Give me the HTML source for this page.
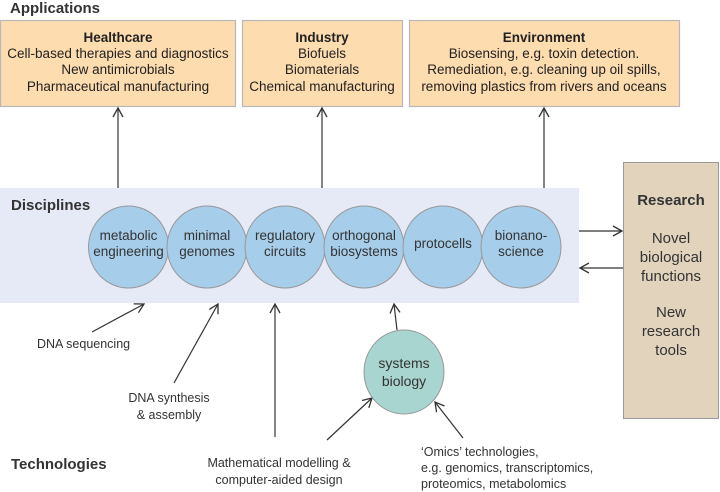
<!DOCTYPE html>
<html><head><meta charset="utf-8"><style>
html,body{margin:0;padding:0;background:#fff;}
svg{display:block;font-family:"Liberation Sans",Arial,sans-serif;}
</style></head><body>
<svg width="720" height="492" viewBox="0 0 720 492" xmlns="http://www.w3.org/2000/svg">
<defs>
<marker id="a" markerWidth="12" markerHeight="12" refX="10" refY="6" orient="auto" markerUnits="userSpaceOnUse">
<path d="M1,1 L10,6 L1,11" fill="none" stroke="#333" stroke-width="1.3"/>
</marker>
</defs>
<text x="10" y="13" font-size="15" font-weight="bold" fill="#333">Applications</text>
<g fill="#fddcb0" stroke="#b8b8b8" stroke-width="1.2">
<rect x="0.5" y="20.5" width="235" height="86"/>
<rect x="242.5" y="20.5" width="160" height="86"/>
<rect x="409.5" y="20.5" width="270" height="86"/>
</g>
<g font-size="13.5" fill="#222" text-anchor="middle">
<text x="118" y="42" font-weight="bold">Healthcare</text>
<text x="118" y="58">Cell-based therapies and diagnostics</text>
<text x="118" y="74">New antimicrobials</text>
<text x="118" y="91">Pharmaceutical manufacturing</text>
<text x="322" y="42" font-weight="bold">Industry</text>
<text x="322" y="58">Biofuels</text>
<text x="322" y="74">Biomaterials</text>
<text x="322" y="91">Chemical manufacturing</text>
<text x="544" y="42" font-weight="bold">Environment</text>
<text x="544" y="58">Biosensing, e.g. toxin detection.</text>
<text x="544" y="74">Remediation, e.g. cleaning up oil spills,</text>
<text x="544" y="91">removing plastics from rivers and oceans</text>
</g>
<rect x="0" y="188" width="579" height="115" fill="#e6e9f6"/>
<g stroke="#333" stroke-width="1.2" fill="none" marker-end="url(#a)">
<line x1="118" y1="188" x2="118" y2="108"/>
<line x1="322" y1="188" x2="322" y2="108"/>
<line x1="544" y1="188" x2="544" y2="108"/>
<line x1="579" y1="231" x2="622" y2="231"/>
<line x1="623" y1="268" x2="580" y2="268"/>
<line x1="92" y1="332" x2="144" y2="304"/>
<line x1="174" y1="383" x2="218" y2="304"/>
<line x1="275" y1="437" x2="275" y2="304"/>
<line x1="397" y1="330" x2="394" y2="304"/>
<line x1="327" y1="440" x2="372" y2="398"/>
<line x1="463" y1="438" x2="435" y2="402"/>
</g>
<text x="11" y="210" font-size="15" font-weight="bold" fill="#333">Disciplines</text>
<g fill="#a6cdea" stroke="#999" stroke-width="1">
<ellipse cx="128.5" cy="247" rx="40" ry="41"/>
<ellipse cx="207" cy="247" rx="40" ry="41"/>
<ellipse cx="285" cy="247" rx="40" ry="41"/>
<ellipse cx="364" cy="247" rx="40" ry="41"/>
<ellipse cx="443" cy="247" rx="40" ry="41"/>
<ellipse cx="521" cy="247" rx="40" ry="41"/>
</g>
<g font-size="13.5" fill="#333" text-anchor="middle">
<text x="128.5" y="240">metabolic</text><text x="128.5" y="256">engineering</text>
<text x="207" y="240">minimal</text><text x="207" y="256">genomes</text>
<text x="285" y="240">regulatory</text><text x="285" y="256">circuits</text>
<text x="364" y="240">orthogonal</text><text x="364" y="256">biosystems</text>
<text x="443" y="248">protocells</text>
<text x="521" y="240">bionano-</text><text x="521" y="256">science</text>
</g>
<rect x="623.5" y="162.5" width="95" height="256" fill="#e2d3bd" stroke="#999" stroke-width="1"/>
<g font-size="15" fill="#333" text-anchor="middle">
<text x="671" y="205" font-weight="bold">Research</text>
<text x="671" y="243">Novel</text>
<text x="671" y="262">biological</text>
<text x="671" y="281">functions</text>
<text x="671" y="317">New</text>
<text x="671" y="336">research</text>
<text x="671" y="355">tools</text>
</g>
<ellipse cx="404" cy="372" rx="40" ry="42" fill="#a8d5cf" stroke="#999" stroke-width="1"/>
<g font-size="14" fill="#333" text-anchor="middle">
<text x="404" y="368">systems</text>
<text x="404" y="386">biology</text>
</g>
<g font-size="12.5" fill="#333">
<text x="37" y="348">DNA sequencing</text>
<text x="169" y="402" text-anchor="middle">DNA synthesis</text>
<text x="169" y="419" text-anchor="middle">&amp; assembly</text>
<text x="279" y="467" text-anchor="middle">Mathematical modelling &amp;</text>
<text x="279" y="484" text-anchor="middle">computer-aided design</text>
<text x="421" y="456">‘Omics’ technologies,</text>
<text x="421" y="472">e.g. genomics, transcriptomics,</text>
<text x="421" y="488">proteomics, metabolomics</text>
</g>
<text x="11" y="469" font-size="15" font-weight="bold" fill="#333">Technologies</text>
</svg>
</body></html>
